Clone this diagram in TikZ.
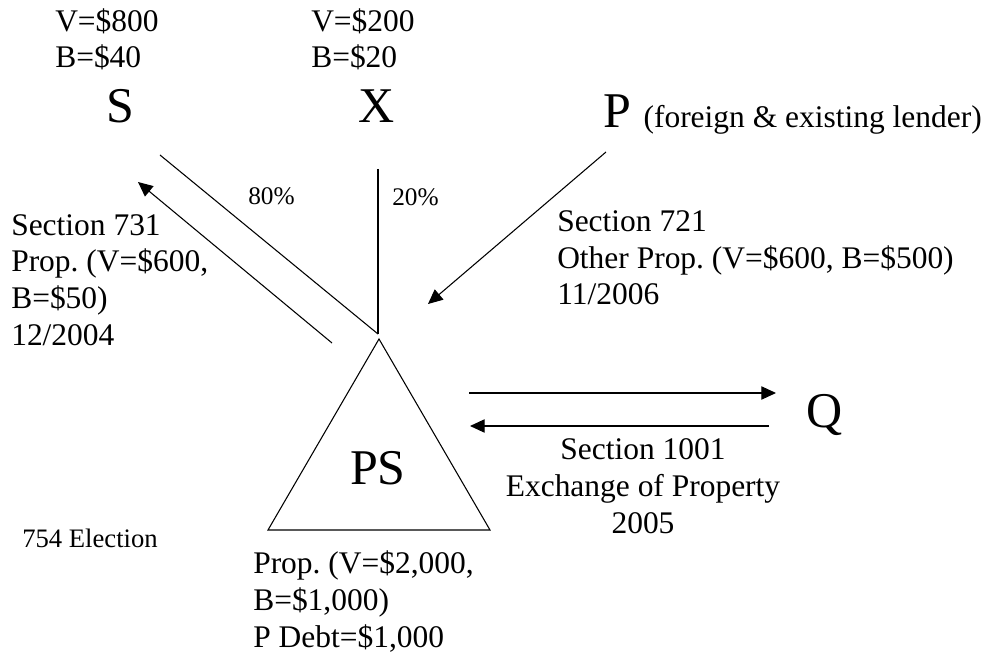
\documentclass[tikz,border=0pt]{standalone}
\usepackage{fontspec}
\setmainfont{Liberation Serif}
\usetikzlibrary{arrows.meta}
\frenchspacing
\begin{document}
\begin{tikzpicture}[x=0.75pt,y=-0.75pt,
  txt/.style={inner sep=0pt, font=\fontsize{23.6}{27.4}\selectfont, align=left},
  ctxt/.style={inner sep=0pt, font=\fontsize{23.6}{27.4}\selectfont, align=center},
  small/.style={inner sep=0pt, font=\fontsize{19}{23}\selectfont},
  big/.style={inner sep=0pt, font=\fontsize{37.5}{42}\selectfont},
  link/.style={line width=0.8pt},
  arr/.style={link, -{Triangle[length=11pt,width=10pt]}}]
\useasboundingbox (0,0) rectangle (1001,656);

% partners and their values (anchored on the last line's baseline)
\node[txt, anchor=base west] (sval) at (55,68) {V=\$800\\B=\$40};
\node[txt, anchor=base west] (xval) at (311,68) {V=\$200\\B=\$20};
\node[big, anchor=base] (S) at (120,123) {S};
\node[big, anchor=base] (X) at (377,123) {X};
\node[inner sep=0pt, anchor=base west] (P) at (603,128)
  {\fontsize{37.5}{42}\selectfont P \fontsize{23.6}{27}\selectfont(foreign \& existing lender)};

% partnership
\coordinate (apex) at (379,339);
\coordinate (bl) at (268,530);
\coordinate (br) at (490,530);
\draw[link, line join=miter] (apex) -- (bl) -- (br) -- cycle;
\node[big, anchor=base] (PS) at (378,484) {PS};
\node[big, anchor=base] (Q) at (825,427) {Q};

% ownership lines
\coordinate (hub) at (378,334);
\coordinate (sEnd) at (160,155);
\coordinate (xEnd) at (378,169);
\draw[link] (sEnd) -- (hub);
\draw[link] (xEnd) -- (hub);
\node[small, anchor=base west] (p80) at (248,205) {80\%};
\node[small, anchor=base west] (p20) at (392,206) {20\%};

% distribution to S
\coordinate (d731a) at (332,343);
\coordinate (d731b) at (138,182);
\draw[arr] (d731a) -- (d731b);
\node[txt, anchor=base west] (s731) at (11,345)
  {Section 731\\Prop. (V=\$600,\\B=\$50)\\12/2004};

% contribution by P
\coordinate (c721a) at (606,152);
\coordinate (c721b) at (428,304);
\draw[arr] (c721a) -- (c721b);
\node[txt, anchor=base west] (s721) at (557,305)
  {Section 721\\Other Prop. (V=\$600, B=\$500)\\11/2006};

% exchange with Q
\coordinate (e1a) at (469,393);
\coordinate (e1b) at (776,393);
\coordinate (e2a) at (769,426);
\coordinate (e2b) at (470,426);
\draw[arr] (e1a) -- (e1b);
\draw[arr] (e2a) -- (e2b);
\node[ctxt, anchor=base] (s1001) at (643,533)
  {Section 1001\\Exchange of Property\\2005};

% remaining notes
\node[small, font=\fontsize{20}{24}\selectfont, anchor=base west] (elect) at (22,547) {754 Election};
\node[txt, anchor=base west] (psprop) at (253,647)
  {Prop. (V=\$2,000,\\B=\$1,000)\\P Debt=\$1,000};
\end{tikzpicture}
\end{document}
